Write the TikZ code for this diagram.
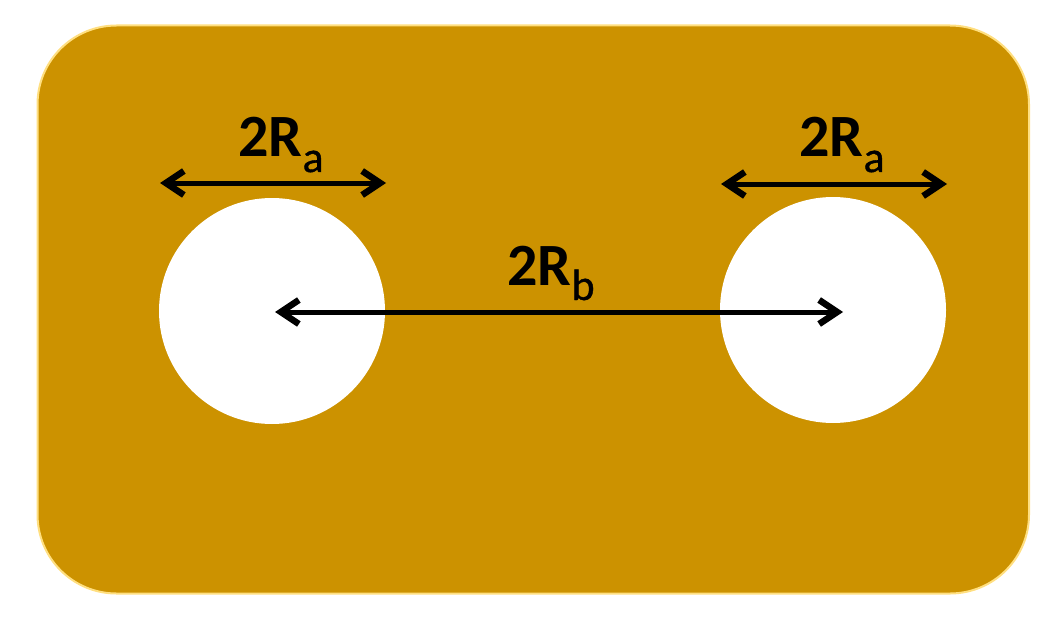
\documentclass[tikz,border=0pt]{standalone}
\usepackage{fontspec}
\setmainfont{Carlito}
\newfontfamily\subfont[FakeBold=0.8]{Carlito}
\usetikzlibrary{arrows.meta}
\definecolor{gold}{HTML}{CC9200}
\definecolor{goldedge}{HTML}{FFDF80}
\newcommand{\dimlabel}[2]{\fontsize{60}{64}\selectfont\bfseries #1\raisebox{-15pt}{\fontsize{44}{46}\subfont\mdseries #2}}
\tikzset{
 plate/.style={fill=gold,draw=goldedge,line width=2pt,rounded corners=79pt},
 hole/.style={circle,fill=white,draw=none,minimum size=226pt,inner sep=0pt},
 barb/.tip={Straight Barb[length=18pt,width=24pt,line width=6.5pt]},
 dim/.style={draw=black,line width=5pt,barb-barb},
 lab/.style={text=black,inner sep=0pt,anchor=base}
}
\begin{document}
\begin{tikzpicture}[x=1pt,y=-1pt]
\useasboundingbox (0,0) rectangle (1062,623);
\fill[white] (0,0) rectangle (1062,623);
\path[plate] (37.5,25.5) rectangle (1029,593.5);
\node[hole] (h1) at (272,311) {};
\node[hole] (h2) at (833,310) {};
\coordinate (a1l) at (160,183); \coordinate (a1r) at (386,183);
\coordinate (a2l) at (721,184); \coordinate (a2r) at (947,184);
\coordinate (bl) at (275,312); \coordinate (br) at (843,312);
\draw[dim] (a1l) -- (a1r);
\draw[dim] (a2l) -- (a2r);
\draw[dim] (bl) -- (br);
\node[lab] (t1) at (281,157) {\dimlabel{2R}{a}};
\node[lab] (t2) at (842,157) {\dimlabel{2R}{a}};
\node[lab] (t3) at (551,285) {\dimlabel{2R}{b}};
\end{tikzpicture}
\end{document}
